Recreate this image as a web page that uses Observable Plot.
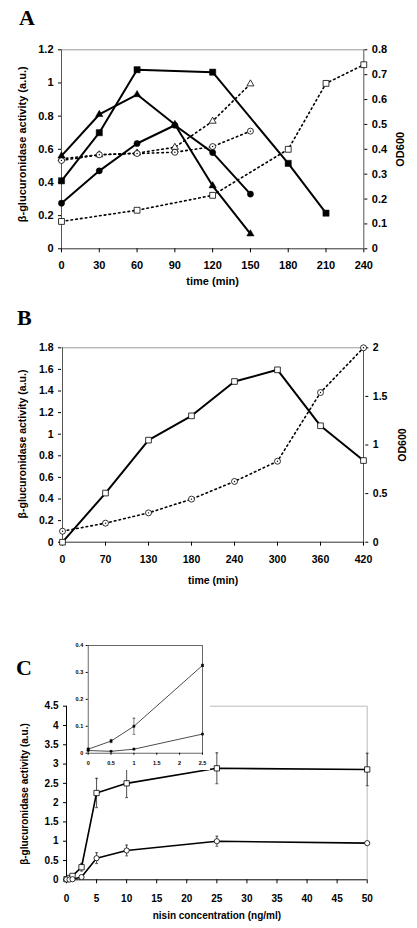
<!DOCTYPE html>
<html><head><meta charset="utf-8">
<script src="https://cdn.jsdelivr.net/npm/d3@7"></script>
<script src="https://cdn.jsdelivr.net/npm/@observablehq/plot@0.6"></script>
<style>
body{margin:0;background:#fff;}
#wrap{position:relative;width:417px;height:928px;overflow:hidden;background:#fff;}
#wrap > svg{position:absolute;}
</style></head><body><div id="wrap"></div>
<script>
// ---------- Panel A data ----------
const timeTicksA = [0,30,60,90,120,150,180,210,240];
const actTicksA = [0,0.2,0.4,0.6,0.8,1,1.2];
const odTicksA = [0,0.1,0.2,0.3,0.4,0.5,0.6,0.7,0.8];
const tA_sqFilled = [0,30,60,120,180,210];
const vA_sqFilled = [0.41,0.70,1.08,1.065,0.515,0.215];
const tA_triFilled = [0,30,60,90,120,150];
const vA_triFilled = [0.56,0.81,0.93,0.75,0.38,0.09];
const tA_cirFilled = [0,30,60,90,120,150];
const vA_cirFilled = [0.275,0.47,0.635,0.745,0.58,0.33];
const tA_triOpen = [0,30,60,90,120,150];
const odA_triOpen = [0.362,0.378,0.385,0.408,0.513,0.663];
const tA_cirOpen = [0,30,60,90,120,150];
const odA_cirOpen = [0.355,0.378,0.383,0.388,0.411,0.473];
const tA_sqOpen = [0,60,120,180,210,240];
const odA_sqOpen = [0.11,0.155,0.215,0.40,0.665,0.74];

// ---------- Panel B data ----------
const timeB = ["0","70","130","180","240","300","360","420"];
const actB = [0,0.455,0.945,1.17,1.488,1.596,1.078,0.756];
const odB = [0.113,0.196,0.302,0.443,0.625,0.833,1.54,2.0];
const actTicksB = [0,0.2,0.4,0.6,0.8,1,1.2,1.4,1.6,1.8];
const odTicksB = [0,0.5,1,1.5,2];

// ---------- Panel C data ----------
const nisinC = [0,0.5,1,2.5,5,10,25,50];
const sqC = [0.015,0.045,0.1,0.326,2.25,2.5,2.89,2.86];
const sqErrC = [0.005,0.006,0.03,0.1,0.38,0.37,0.40,0.42];
const cirC = [0.01,0.007,0.015,0.071,0.56,0.76,1.0,0.95];
const cirErrC = [0.003,0.003,0.004,0.02,0.14,0.14,0.13,0.03];
const nisinTicksC = [0,5,10,15,20,25,30,35,40,45,50];
const actTicksC = [0,0.5,1,1.5,2,2.5,3,3.5,4,4.5];
// inset
const nisinInset = [0,0.5,1,2.5];
const sqErrInset = [0.004,0.006,0.03,0.004];
const cirErrInset = [0.002,0.002,0.003,0.003];
const xTicksInset = [0,0.5,1,1.5,2,2.5];
const yTicksInset = [0,0.1,0.2,0.3,0.4];

const yTitle = "β-glucuronidase activity (a.u.)";
const odTitle = "OD600";

// ---------- helpers ----------
const fmt = d => String(+(+d).toFixed(3));
const rows = (xs, ys, k = 1, es) => xs.map((x, i) => ({x, y: ys[i] * k, e: es ? es[i] : 0}));
const FONT = "'Liberation Sans', Arial, sans-serif";
const styleFor = fs => ({fontFamily: FONT, fontSize: fs + "px", fontWeight: "bold", background: "transparent", color: "black", overflow: "visible"});

const solid = (d, w = 2) => Plot.line(d, {x: "x", y: "y", stroke: "black", strokeWidth: w});
const dotted = d => Plot.line(d, {x: "x", y: "y", stroke: "black", strokeWidth: 1.6, strokeDasharray: "1.6,3.2"});
const filled = (d, symbol, r) => Plot.dot(d, {x: "x", y: "y", symbol, r, fill: "black", stroke: "black", strokeWidth: 0.5});
const open = (d, symbol, r) => Plot.dot(d, {x: "x", y: "y", symbol, r, fill: "white", stroke: "black", strokeWidth: 0.8});
const centerDot = d => Plot.dot(d, {x: "x", y: "y", r: 0.7, fill: "black"});
const capSymbol = {draw(ctx, size) { const w = Math.sqrt(size) / 2; ctx.moveTo(-w, 0); ctx.lineTo(w, 0); }};
const errBars = (d, w) => [
  Plot.ruleX(d, {x: "x", y1: p => p.y - p.e, y2: p => p.y + p.e, stroke: "#222", strokeWidth: w}),
  Plot.dot(d, {x: "x", y: p => p.y + p.e, symbol: capSymbol, r: 1.6, fill: "none", stroke: "#222", strokeWidth: w}),
  Plot.dot(d, {x: "x", y: p => p.y - p.e, symbol: capSymbol, r: 1.6, fill: "none", stroke: "#222", strokeWidth: w})
];
const title = (t, opts) => Plot.text([t], {text: d => d, fontWeight: "bold", textAnchor: "middle", lineAnchor: "middle", ...opts});
const wrap = document.getElementById("wrap");
function place(svg, left, top) { svg.style.left = left + "px"; svg.style.top = top + "px"; wrap.appendChild(svg); }

// ---------- Panel A ----------
const kA = 1.2 / 0.8;
const plotA = Plot.plot({
  width: 417, height: 290,
  marginLeft: 61, marginRight: 53.7, marginTop: 49.3, marginBottom: 41.7,
  x: {domain: [0, 240], label: null},
  y: {domain: [0, 1.2], label: null},
  style: styleFor(11),
  marks: [
    Plot.ruleY([1.2], {stroke: "#999", strokeWidth: 1}),
    Plot.ruleX([0], {stroke: "#555"}),
    Plot.ruleX([240], {stroke: "#555"}),
    Plot.ruleY([0], {stroke: "#333"}),
    Plot.axisX(timeTicksA, {tickSize: 4, tickPadding: 8, tickFormat: fmt, label: null}),
    Plot.axisY(actTicksA, {tickSize: 3, tickPadding: 5, tickFormat: fmt, label: null}),
    Plot.axisY(odTicksA.map(v => v * kA), {anchor: "right", tickSize: 3, tickPadding: 5, tickFormat: v => fmt(v / kA), label: null}),
    dotted(rows(tA_sqOpen, odA_sqOpen, kA)),
    dotted(rows(tA_triOpen, odA_triOpen, kA)),
    dotted(rows(tA_cirOpen, odA_cirOpen, kA)),
    solid(rows(tA_sqFilled, vA_sqFilled)),
    solid(rows(tA_triFilled, vA_triFilled)),
    solid(rows(tA_cirFilled, vA_cirFilled)),
    open(rows(tA_sqOpen, odA_sqOpen, kA), "square", 3.3),
    open(rows(tA_triOpen, odA_triOpen, kA), "triangle", 2.6),
    open(rows(tA_cirOpen, odA_cirOpen, kA), "circle", 3),
    centerDot(rows(tA_cirOpen, odA_cirOpen, kA)),
    filled(rows(tA_sqFilled, vA_sqFilled), "square", 3.5),
    filled(rows(tA_triFilled, vA_triFilled), "triangle", 2.7),
    filled(rows(tA_cirFilled, vA_cirFilled), "circle", 3.1),
    title("time (min)", {frameAnchor: "bottom", dy: 33, fontSize: 11}),
    title(yTitle, {frameAnchor: "left", dx: -39, dy: -5, rotate: -90, fontSize: 11}),
    title(odTitle, {frameAnchor: "right", dx: 37, rotate: -90, fontSize: 11})
  ]
});
place(plotA, 0, 0);

// ---------- Panel B ----------
const kB = 1.8 / 2;
const plotB = Plot.plot({
  width: 417, height: 300,
  marginLeft: 61, marginRight: 52.7, marginTop: 57.3, marginBottom: 48.3,
  x: {type: "point", domain: timeB, padding: 0, label: null},
  y: {domain: [0, 1.8], label: null},
  style: styleFor(10.5),
  marks: [
    Plot.ruleY([1.8], {stroke: "#999"}),
    Plot.ruleX([timeB[0]], {stroke: "#555"}),
    Plot.ruleX([timeB[timeB.length - 1]], {stroke: "#555"}),
    Plot.ruleY([0], {stroke: "#333"}),
    Plot.axisX({tickSize: 4, tickPadding: 9, label: null}),
    Plot.axisY(actTicksB, {tickSize: 3, tickPadding: 5, tickFormat: fmt, label: null}),
    Plot.axisY(odTicksB.map(v => v * kB), {anchor: "right", tickSize: 3, tickPadding: 5, tickFormat: v => fmt(v / kB), label: null}),
    dotted(rows(timeB, odB, kB)),
    solid(rows(timeB, actB)),
    open(rows(timeB, actB), "square", 3.2),
    open(rows(timeB, odB, kB), "circle", 3),
    centerDot(rows(timeB, odB, kB)),
    title("time (min)", {frameAnchor: "bottom", dy: 38, fontSize: 10.5}),
    title(yTitle, {frameAnchor: "left", dx: -39, dy: -1, rotate: -90, fontSize: 10.5}),
    title(odTitle, {frameAnchor: "right", dx: 38, rotate: -90, fontSize: 10.5})
  ]
});
place(plotB, 0, 290);

// ---------- Panel C ----------
const dataSqC = rows(nisinC, sqC, 1, sqErrC);
const dataCirC = rows(nisinC, cirC, 1, cirErrC);
const plotC = Plot.plot({
  width: 417, height: 328,
  marginLeft: 66, marginRight: 50.3, marginTop: 105.7, marginBottom: 48.7,
  x: {domain: [0, 50], label: null},
  y: {domain: [0, 4.5], label: null},
  style: styleFor(10),
  marks: [
    Plot.ruleY([4.5], {stroke: "#bbb"}),
    Plot.ruleX([50], {stroke: "#bbb"}),
    Plot.ruleX([0], {stroke: "black"}),
    Plot.ruleY([0], {stroke: "black"}),
    Plot.axisX(nisinTicksC, {tickSize: 4, tickPadding: 11, tickFormat: fmt, label: null}),
    Plot.axisY(actTicksC, {tickSize: 3, tickPadding: 5, tickFormat: fmt, label: null}),
    ...errBars(dataSqC, 0.8),
    ...errBars(dataCirC, 0.8),
    solid(dataSqC, 1.6),
    solid(dataCirC, 1.6),
    open(dataSqC, "square", 3),
    open(dataCirC, "circle", 2.6),
    title("nisin concentration (ng/ml)", {frameAnchor: "bottom", dy: 36, fontSize: 10}),
    title(yTitle, {frameAnchor: "left", dx: -42, dy: 1, rotate: -90, fontSize: 10})
  ]
});
place(plotC, 0, 600);

// ---------- Inset ----------
const insSq = rows(nisinInset, sqC.slice(0, 4), 1, sqErrInset);
const insCir = rows(nisinInset, cirC.slice(0, 4), 1, cirErrInset);
const plotInset = Plot.plot({
  width: 143, height: 135,
  marginLeft: 20.7, marginRight: 8, marginTop: 10, marginBottom: 17.3,
  x: {domain: [0, 2.5], label: null},
  y: {domain: [0, 0.4], label: null},
  style: {...styleFor(5.5), background: "white"},
  marks: [
    Plot.frame({stroke: "#444", strokeWidth: 0.8}),
    Plot.axisX(xTicksInset, {tickSize: 2, tickPadding: 6, tickFormat: fmt, label: null, fontSize: 5.5}),
    Plot.axisY(yTicksInset, {tickSize: 2, tickPadding: 3, tickFormat: fmt, label: null, fontSize: 5.5}),
    ...errBars(insSq, 0.6),
    ...errBars(insCir, 0.6),
    solid(insSq, 0.7),
    solid(insCir, 0.7),
    filled(insSq, "square", 1.2),
    filled(insCir, "circle", 1.1)
  ]
});
place(plotInset, 67, 635);

// ---------- Panel letters ----------
const NS = "http://www.w3.org/2000/svg";
const letters = [["A", 19, 25], ["B", 17, 325], ["C", 16, 675]];
const lsvg = document.createElementNS(NS, "svg");
lsvg.setAttribute("width", 417); lsvg.setAttribute("height", 928);
lsvg.style.left = "0px"; lsvg.style.top = "0px"; lsvg.style.pointerEvents = "none";
for (const [t, x, y] of letters) {
  const el = document.createElementNS(NS, "text");
  el.setAttribute("x", x); el.setAttribute("y", y);
  el.setAttribute("font-family", "'Liberation Serif', 'Times New Roman', serif");
  el.setAttribute("font-weight", "bold"); el.setAttribute("font-size", "22");
  el.textContent = t;
  lsvg.appendChild(el);
}
wrap.appendChild(lsvg);
</script>
</body></html>
